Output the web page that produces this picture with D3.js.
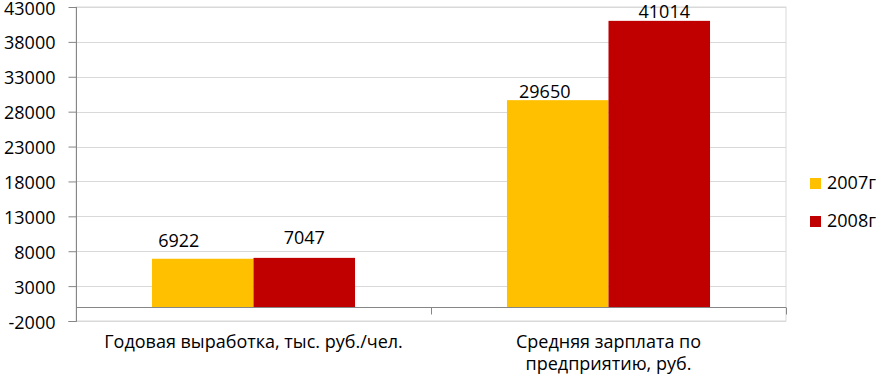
<!DOCTYPE html>
<html><head><meta charset="utf-8">
<script src="https://cdn.jsdelivr.net/npm/d3@7"></script>
<style>
body{margin:0;background:#fff;}
text{font-family:"Open Sans","Liberation Sans",sans-serif;fill:#000;}
</style></head>
<body><svg id="c" width="880" height="375"></svg>
<script>
const categories = [["Годовая выработка, тыс. руб./чел."], ["Средняя зарплата по", "предприятию, руб."]];
const seriesNames = ["2007г", "2008г"];
const values2007 = [6922, 29650];
const values2008 = [7047, 41014];
const tickValues = [-2000, 3000, 8000, 13000, 18000, 23000, 28000, 33000, 38000, 43000];
const colors = ["#FFC000", "#C00000"];
// manual label nudges [dx, dy] per category / series (as in the reference)
const labelNudge = [[[-24, -12], [0, -14]], [[-13, -2], [5, -3]]];

const svg = d3.select("#c");
const L = 76, R = 786, T = 7, B = 321;
const y = d3.scaleLinear().domain([-2000, 43000]).range([B, T]);
const catKeys = categories.map(c => c.join(" "));
const x0 = d3.scaleBand().domain(catKeys).range([L, R]).padding(0);
const bw = x0.bandwidth();
const gap = bw * 0.214;
const x1 = d3.scaleBand().domain(seriesNames).range([gap, bw - gap]).padding(0);

// plot border
svg.append("rect").attr("x", L).attr("y", T).attr("width", R - L).attr("height", B - T)
  .attr("fill", "none").attr("stroke", "#d9d9d9").attr("stroke-width", 1);
// gridlines
svg.append("g").selectAll("line").data(tickValues).join("line")
  .attr("x1", L).attr("x2", R)
  .attr("y1", d => Math.round(y(d)) + 0.5).attr("y2", d => Math.round(y(d)) + 0.5)
  .attr("stroke", "#d9d9d9");

// bars
const data = [];
catKeys.forEach((c, i) => {
  data.push({c, s: seriesNames[0], v: values2007[i], ci: i, si: 0});
  data.push({c, s: seriesNames[1], v: values2008[i], ci: i, si: 1});
});
svg.append("g").selectAll("rect").data(data).join("rect")
  .attr("x", d => x0(d.c) + x1(d.s))
  .attr("width", x1.bandwidth())
  .attr("y", d => y(d.v))
  .attr("height", d => y(0) - y(d.v))
  .attr("fill", d => colors[d.si]);

// value labels
svg.append("g").selectAll("text").data(data).join("text")
  .attr("x", d => x0(d.c) + x1(d.s) + x1.bandwidth() / 2 + labelNudge[d.ci][d.si][0])
  .attr("y", d => y(d.v) + labelNudge[d.ci][d.si][1])
  .attr("text-anchor", "middle")
  .attr("font-size", 18)
  .text(d => d.v);

// y axis
const yAxis = d3.axisLeft(y).tickValues(tickValues).tickSize(8).tickPadding(13).tickFormat(d => String(d));
const gy = svg.append("g").attr("transform", `translate(${L + 0.5},0)`).call(yAxis);
gy.select(".domain").attr("stroke", "#868686").attr("d", `M-8,${B + 0.5}H0V${T}`);
gy.selectAll(".tick line").attr("stroke", "#868686");
gy.selectAll(".tick text").attr("font-size", 18).attr("fill", "#000").attr("dy", "0.39em")
  .attr("font-family", '"Open Sans","Liberation Sans",sans-serif');

// category axis at zero
const zy = Math.round(y(0)) + 0.5;
svg.append("line").attr("x1", L).attr("x2", R).attr("y1", zy).attr("y2", zy).attr("stroke", "#868686");
const edges = catKeys.map(c => x0(c)).concat([x0(catKeys[catKeys.length - 1]) + bw]);
svg.append("g").selectAll("line").data(edges).join("line")
  .attr("x1", d => Math.round(d) + 0.5).attr("x2", d => Math.round(d) + 0.5)
  .attr("y1", zy).attr("y2", zy + 7).attr("stroke", "#868686");

// category labels
const cl = svg.append("g").selectAll("text").data(categories).join("text")
  .attr("text-anchor", "middle").attr("font-size", 18)
  .attr("x", (d, i) => x0(catKeys[i]) + bw / 2)
  .attr("y", 348);
cl.selectAll("tspan").data(d => d).join("tspan")
  .attr("x", function() { return this.parentNode.getAttribute("x"); })
  .attr("dy", (d, i) => i === 0 ? 0 : 22)
  .text(d => d);

// legend
const lg = svg.append("g").selectAll("g").data(seriesNames).join("g")
  .attr("transform", (d, i) => `translate(810,${178 + i * 38})`);
lg.append("rect").attr("width", 11).attr("height", 11).attr("fill", (d, i) => colors[i]);
lg.append("text").attr("x", 17).attr("y", 11).attr("font-size", 18).text(d => d);
</script></body></html>
